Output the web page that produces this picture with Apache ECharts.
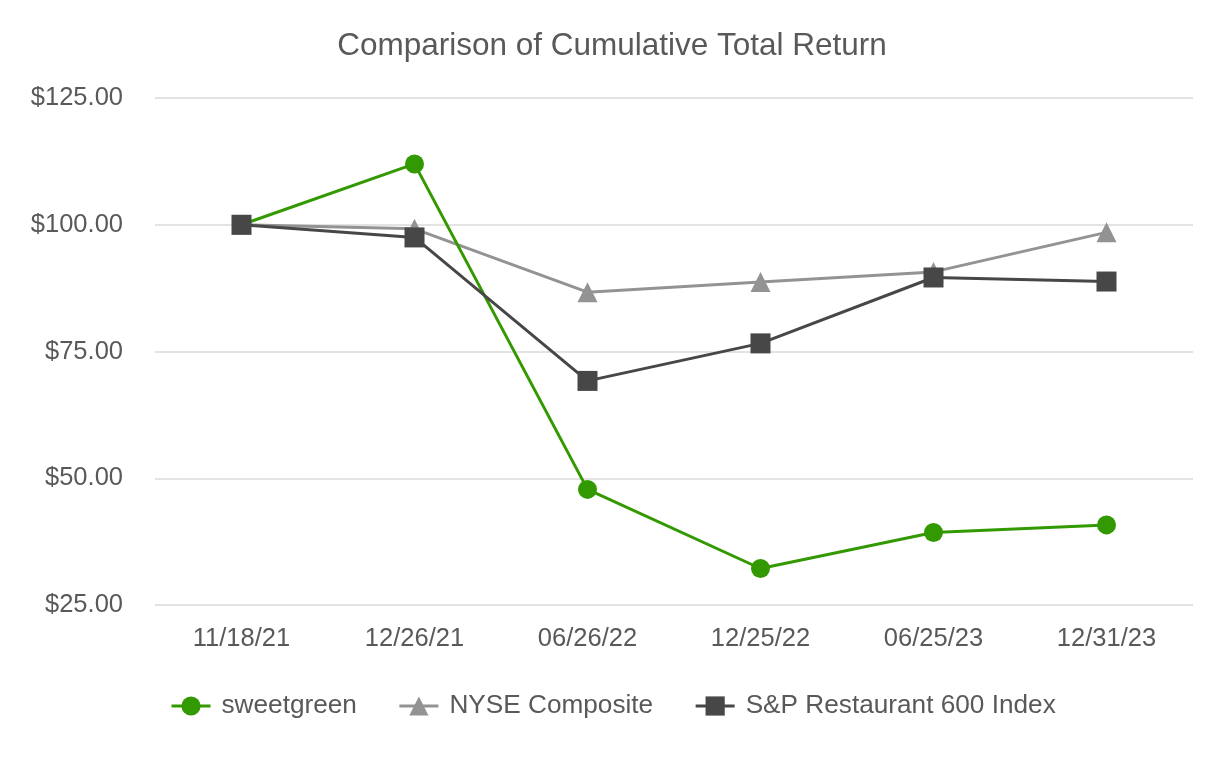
<!DOCTYPE html>
<html><head><meta charset="utf-8">
<script src="https://cdn.jsdelivr.net/npm/echarts@6/dist/echarts.min.js"></script>
<style>html,body{margin:0;padding:0;background:#fff}#c{width:1224px;height:760px}</style>
</head><body><div id="c"></div>
<script>
const categories = ['11/18/21','12/26/21','06/26/22','12/25/22','06/25/23','12/31/23'];
const sweetgreen = [100, 112.0, 47.8, 32.2, 39.3, 40.8];
const nyse = [100, 99.2, 86.7, 88.7, 90.7, 98.5];
const sp600 = [100, 97.5, 69.2, 76.6, 89.6, 88.8];
const yTicks = [25, 50, 75, 100, 125];

const chart = echarts.init(document.getElementById('c'));
const font = 'Arial, "Liberation Sans", sans-serif';
chart.setOption({
  animation: false,
  backgroundColor: '#fff',
  title: { text: 'Comparison of Cumulative Total Return', left: 'center', top: 25,
    textStyle: { fontFamily: font, fontSize: 31.5, fontWeight: 'normal', color: '#595959' } },
  legend: { top: 688, left: 165, itemGap: 41, itemWidth: 39, itemHeight: 24,
    lineStyle: { width: 3 },
    textStyle: { fontFamily: font, fontSize: 26.2, color: '#595959', padding: [0, 0, 0, 6] },
    data: ['sweetgreen', 'NYSE Composite', 'S&P Restaurant 600 Index'] },
  grid: { left: 155, right: 31, top: 98, bottom: 155 },
  xAxis: { type: 'category', data: categories, boundaryGap: true,
    axisLine: { show: false }, axisTick: { show: false },
    axisLabel: { fontFamily: font, fontSize: 25.5, color: '#595959', margin: 21 } },
  yAxis: { type: 'value', min: yTicks[0], max: yTicks[yTicks.length-1], interval: 25,
    axisLine: { show: false }, axisTick: { show: false },
    splitLine: { lineStyle: { color: '#e3e3e3', width: 2 } },
    axisLabel: { fontFamily: font, fontSize: 25.5, color: '#595959', margin: 32,
      formatter: v => '$' + v.toFixed(2) } },
  series: [
    { name: 'sweetgreen', type: 'line', data: sweetgreen, symbol: 'circle', symbolSize: 19,
      itemStyle: { color: '#339900' }, lineStyle: { color: '#339900', width: 3 }, z: 3 },
    { name: 'NYSE Composite', type: 'line', data: nyse, symbol: 'triangle', symbolSize: 20,
      itemStyle: { color: '#939393' }, lineStyle: { color: '#939393', width: 3 }, z: 2 },
    { name: 'S&P Restaurant 600 Index', type: 'line', data: sp600, symbol: 'rect', symbolSize: 20,
      itemStyle: { color: '#474747' }, lineStyle: { color: '#474747', width: 3 }, z: 4 }
  ]
});
</script></body></html>
